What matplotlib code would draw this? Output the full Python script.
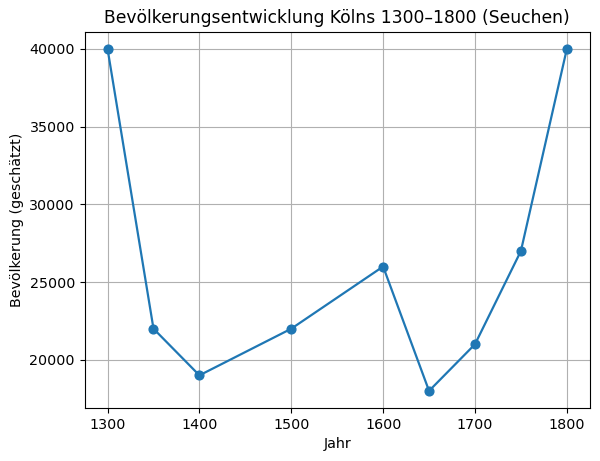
import matplotlib
matplotlib.use("Agg")
import matplotlib.pyplot as plt

years = [1300, 1350, 1400, 1500, 1600, 1650, 1700, 1750, 1800]
population = [40000, 22000, 19000, 22000, 26000, 18000, 21000, 27000, 40000]

plt.rcParams["font.size"] = 10.25

fig, ax = plt.subplots(figsize=(6.0, 4.61), dpi=100)
fig.subplots_adjust(left=0.141, right=0.983, top=0.931, bottom=0.115)

ax.plot(years, population, marker="o", color="#1f77b4", linewidth=1.6, markersize=6.3)
ax.set_title("Bevölkerungsentwicklung Kölns 1300–1800 (Seuchen)")
ax.set_xlabel("Jahr")
ax.set_ylabel("Bevölkerung (geschätzt)")
ax.grid(True)

fig.savefig("out.png", dpi=100)
